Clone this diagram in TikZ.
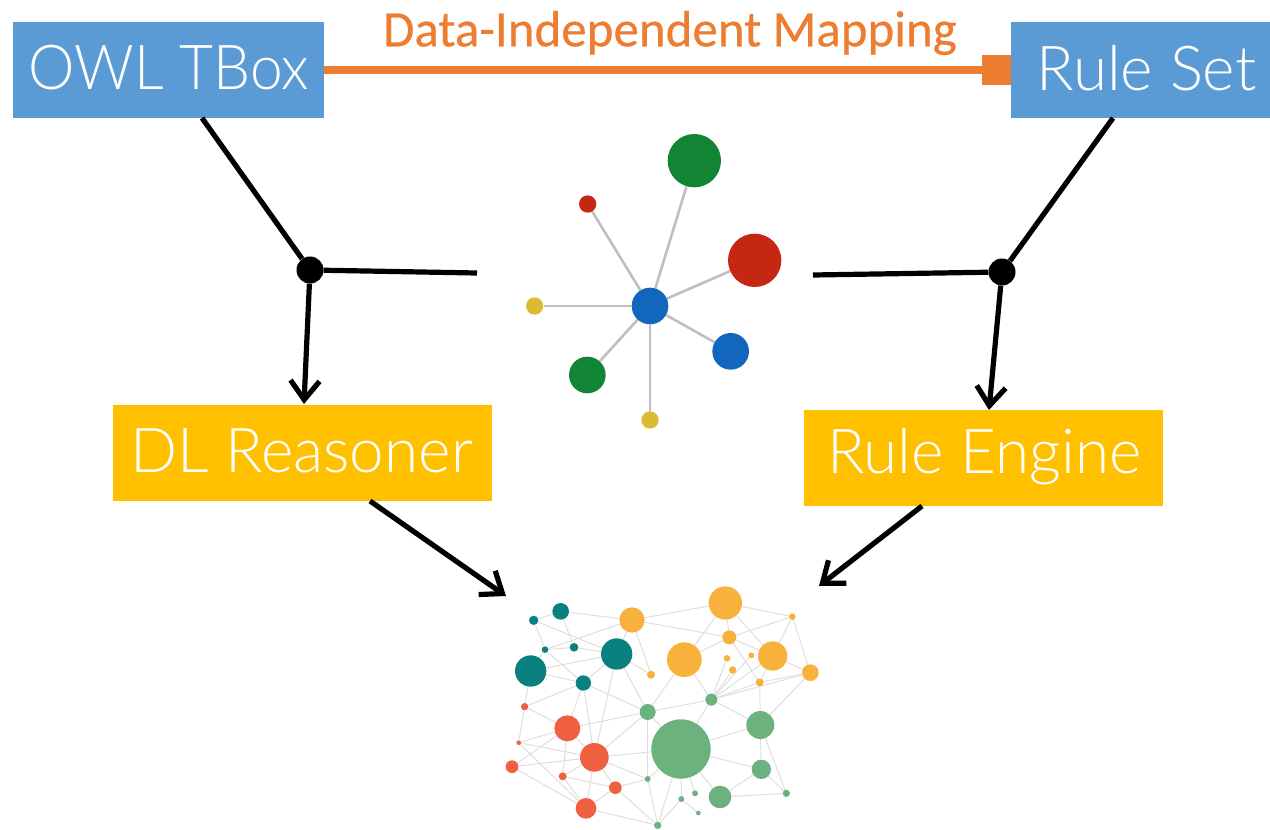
\documentclass[tikz,border=0pt]{standalone}
\usepackage{fontspec}
\usepackage{graphicx}
\setmainfont{Lato}[UprightFont=* Light]
\newfontfamily\titlefont{Carlito}[FakeBold=0.5]
\usetikzlibrary{arrows.meta,backgrounds}
\definecolor{boxblue}{HTML}{5B9BD5}
\definecolor{boxyellow}{HTML}{FFC000}
\definecolor{maporange}{HTML}{ED7D31}
\definecolor{cteal}{HTML}{0B8080}
\definecolor{corange}{HTML}{F9B13D}
\definecolor{cgreen}{HTML}{6BB27F}
\definecolor{cred}{HTML}{EE6040}
\definecolor{sblue}{HTML}{1267BC}
\definecolor{sgreen}{HTML}{118533}
\definecolor{sred}{HTML}{C52712}
\definecolor{syellow}{HTML}{DBBB33}
\tikzset{
 boxnode/.style={inner sep=0,text=white,font=\fontsize{62}{62}\selectfont},
 junction/.style={circle,fill=black,inner sep=0,minimum size=27pt},
 link/.style={line width=5.2pt,black},
 arrowlink/.style={link,-{Straight Barb[length=19pt,width=29pt,line width=5.2pt]}},
 dot/.style={circle,inner sep=0,draw=none},
 thin edge/.style={line width=1pt,black!13},
 star edge/.style={line width=2.6pt,black!25},
}
\begin{document}
\begin{tikzpicture}[x=1pt,y=-1pt]
\path[use as bounding box] (0,0) rectangle (1270,830);
% boxes
\node[boxnode,fill=boxblue,minimum width=311pt,minimum height=96pt] (owl) at (168.5,70) {};
\node[boxnode,fill=boxblue,minimum width=259pt,minimum height=96pt] (rules) at (1140.5,70) {};
\node[boxnode,fill=boxyellow,minimum width=379pt,minimum height=96pt] (dl) at (302.5,453) {};
\node[boxnode,fill=boxyellow,minimum width=359pt,minimum height=96pt] (engine) at (983.5,458) {};
\node[boxnode] (owltext) at (169,68) {\scalebox{0.945}[1]{OWL TBox}};
\node[boxnode] (rulestext) at (1146.5,68) {Rule Set};
\node[boxnode] (dltext) at (301.5,451) {DL Reasoner};
\node[boxnode] (enginetext) at (984.5,457) {Rule Engine};
\node[text=maporange,inner sep=0,font=\titlefont\fontsize{51}{51}\selectfont] (maplabel) at (670,33) {Data-Independent Mapping};
\draw[line width=8pt,maporange,-{Square[length=29pt,width=30pt]}] (owl.east) -- (rules.west);
% junctions
\node[junction] (j1) at (310,270) {};
\node[junction] (j2) at (1002,272) {};
\coordinate (owlout) at (202,118);
\coordinate (rulesout) at (1113,118);
\coordinate (dlin) at (304,404);
\coordinate (enginein) at (989,410);
\coordinate (j1end) at (477,273);
\coordinate (j2end) at (813,275);
\coordinate (dlout) at (370,501);
\coordinate (engineout) at (922,506);
\coordinate (netl) at (506,596);
\coordinate (netr) at (819,586);
\draw[link] (owlout) -- (j1);
\draw[link] (rulesout) -- (j2);
\draw[link] (j1) -- (j1end);
\draw[link] (j2) -- (j2end);
\draw[arrowlink] (j1) -- (dlin);
\draw[arrowlink] (j2) -- (enginein);
\draw[arrowlink] (dlout) -- (netl);
\draw[arrowlink] (engineout) -- (netr);
% small star network
\foreach \n/\x/\y/\r/\c in {hub/450/558/55/sblue,sa/583/122/80/sgreen,sb/263/252/26/sred,sc/764/421/80/sred,sd/104/558/26/syellow,se/692/694/55/sblue,sf/262/765/55/sgreen,sg/450/900/26/syellow}
 \node[dot,fill=\c,minimum size={\r*2/3*1pt}] (\n) at ({500+\x/3},{120+\y/3}) {};
\begin{scope}[on background layer]
\foreach \b in {sa,sb,sc,sd,se,sf,sg} \draw[star edge] (hub) -- (\b);
\end{scope}
% big network
\foreach \n/\x/\y/\r/\c in {
 t1/212/124/25/cteal,t2/131/151/14/cteal,t3/165/239/10/cteal,t4/252/232/13/cteal,t5/380/252/47/cteal,t6/122/303/47/cteal,t7/280/339/23/cteal,
 o1/426/150/38/corange,o2/706/99/50/corange,o3/907/140/10/corange,o4/718/202/21/corange,o5/583/269/52/corange,o6/848/258/44/corange,o7/711/265/10/corange,o8/784/256/9/corange,o9/728/300/11/corange,o10/483/314/12/corange,o11/809/337/12/corange,o12/961/308/25/corange,
 g1/664/389/18/cgreen,g2/473/426/24/cgreen,g3/811/465/42/cgreen,g4/573/537/89/cgreen,g5/814/598/29/cgreen,g6/690/681/34/cgreen,g7/889/670/11/cgreen,g8/473/627/9/cgreen,g9/574/687/9/cgreen,g10/615/670/9/cgreen,g11/625/729/7/cgreen,g12/503/766/11/cgreen,
 r1/104/410/11/cred,r2/232/475/39/cred,r3/86/518/7/cred,r4/313/562/43/cred,r5/66/590/19/cred,r6/218/619/12/cred,r7/376/653/19/cred,r8/288/715/31/cred}
 \node[dot,fill=\c,minimum size={\r*2/3*1pt}] (\n) at ({490+\x/3},{570+\y/3}) {};
\begin{scope}[on background layer]
\foreach \a/\b in {t1/t2,t1/o1,t1/t4,t2/t3,t2/t5,t3/t4,t4/t5,t3/o1,t5/t6,t3/t6,t6/t7,t3/t7,t5/t7,t5/o1,t5/o10,t5/g2,t5/r4,t7/r2,t7/r4,t7/g2,t7/r1,t6/r1,r1/r2,r1/r3,r2/r3,r2/r5,r2/g2,r2/r6,r2/r4,r3/r4,r3/r8,r5/r4,r5/r8,r6/r4,r6/r7,r6/r8,r4/r7,r4/r8,r4/g4,r4/g2,r4/g8,r7/r8,r7/g8,r7/g12,r8/g12,g8/g12,g8/g2,g8/g4,g12/g4,g12/g9,g9/g4,g9/g11,g10/g4,g6/g4,g6/g5,g6/g7,g5/g4,g5/g3,g5/g7,g3/g7,g3/g4,g3/g1,g3/o11,g3/o12,g1/g4,g1/g2,g1/o5,g1/o7,g1/o9,g1/o6,g1/o11,g1/o12,g1/o8,g2/o5,o1/o2,o1/o4,o1/o10,o2/o5,o2/o4,o2/o6,o2/o3,o4/o3,o4/o5,o4/o11,o4/o6,o3/o6,o3/o12,o6/o12,o6/o11,o11/o12,g2/g4}
 \draw[thin edge] (\a) -- (\b);
\end{scope}
\end{tikzpicture}
\end{document}
